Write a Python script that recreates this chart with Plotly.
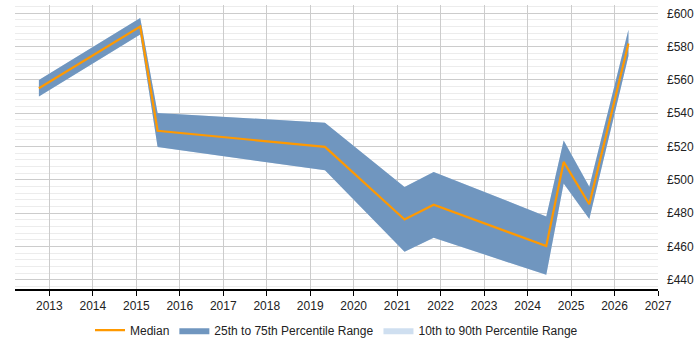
import plotly.graph_objects as go

# Data
years = [2012.76, 2015.09, 2015.49, 2019.34, 2021.17, 2021.84, 2024.43, 2024.83, 2025.42, 2026.32]
median = [555, 592, 529.5, 519.8, 476.2, 485.1, 460.3, 510.8, 485.4, 581.9]
p25 = [550, 587.3, 519.7, 505.8, 456.8, 465.3, 443, 497.9, 476.5, 574.4]
p75 = [560, 597.2, 540.2, 534.3, 495.8, 504.8, 478.1, 523.6, 495.9, 590.2]
p10 = p25
p90 = p75
y_ticks = [440, 460, 480, 500, 520, 540, 560, 580, 600]
y_tick_labels = ["£" + str(v) for v in y_ticks]
x_ticks = list(range(2013, 2028))

fig = go.Figure()

# 10th-90th band
fig.add_trace(go.Scatter(x=years, y=p10, mode="lines", line=dict(width=0, color="#cfdff0"),
                         showlegend=False, hoverinfo="skip"))
fig.add_trace(go.Scatter(x=years, y=p90, mode="lines", line=dict(width=0, color="#cfdff0"),
                         fill="tonexty", fillcolor="#cfdff0", name="10th to 90th Percentile Range",
                         legendrank=3))
# 25th-75th band
fig.add_trace(go.Scatter(x=years, y=p25, mode="lines", line=dict(width=0, color="#7096bf"),
                         showlegend=False, hoverinfo="skip"))
fig.add_trace(go.Scatter(x=years, y=p75, mode="lines", line=dict(width=0, color="#7096bf"),
                         fill="tonexty", fillcolor="#7096bf", name="25th to 75th Percentile Range",
                         legendrank=2))
# Median
fig.add_trace(go.Scatter(x=years, y=median, mode="lines", line=dict(width=2.2, color="#ff9900"),
                         name="Median", legendrank=1))

fig.update_layout(
    width=700, height=350,
    margin=dict(l=15, r=42, t=5, b=58),
    paper_bgcolor="white", plot_bgcolor="white",
    font=dict(family="Liberation Sans, Arial, sans-serif", size=12, color="#222"),
    legend=dict(orientation="h", x=0.5, xanchor="center", y=-0.145, yanchor="middle",
                font=dict(size=12, color="#222"), traceorder="normal"),
    xaxis=dict(range=[2012.21, 2027], tickmode="array", tickvals=x_ticks,
               ticktext=[str(v) for v in x_ticks], showgrid=True, gridcolor="#cccccc",
               gridwidth=1, ticks="outside", ticklen=5, tickcolor="#000",
               showline=True, linecolor="#000", linewidth=1.5, zeroline=False,
               tickfont=dict(size=12, color="#222")),
    yaxis=dict(range=[434.5, 605], side="right", tickmode="array", tickvals=y_ticks,
               ticktext=y_tick_labels, showgrid=True, gridcolor="#cccccc", gridwidth=1,
               zeroline=False, showline=False, ticks="", ticklabelstandoff=8,
               minor=dict(dtick=4, tick0=440, showgrid=True, gridcolor="#ececec", gridwidth=1),
               tickfont=dict(size=12, color="#222")),
)

fig.write_html("out.html")
